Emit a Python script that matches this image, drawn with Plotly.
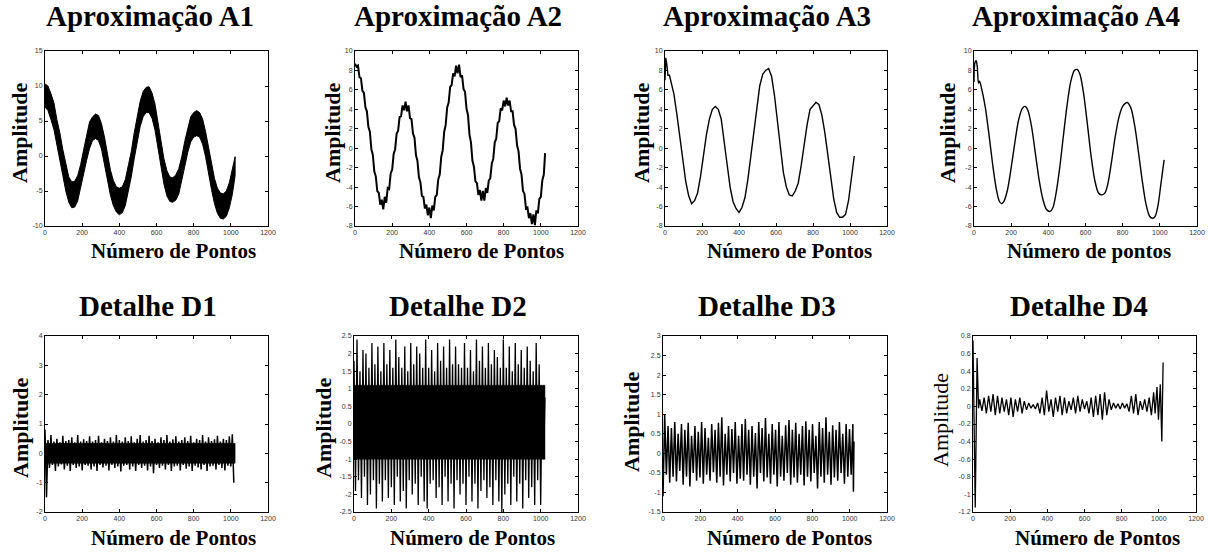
import plotly.graph_objects as go

# ---------------- data ----------------
X_TICKS = [0, 200, 400, 600, 800, 1000, 1200]
X_TICK_TEXT = ["0", "200", "400", "600", "800", "1000", "1200"]

Y_TICKS_A1 = [-10, -5, 0, 5, 10, 15]
Y_TEXT_A1 = ["-10", "-5", "0", "5", "10", "15"]
Y_TICKS_A = [-8, -6, -4, -2, 0, 2, 4, 6, 8, 10]
Y_TEXT_A = ["-8", "-6", "-4", "-2", "0", "2", "4", "6", "8", "10"]
Y_TICKS_D1 = [-2, -1, 0, 1, 2, 3, 4]
Y_TEXT_D1 = ["-2", "-1", "0", "1", "2", "3", "4"]
Y_TICKS_D2 = [-2.5, -2, -1.5, -1, -0.5, 0, 0.5, 1, 1.5, 2, 2.5]
Y_TEXT_D2 = ["-2.5", "-2", "-1.5", "-1", "-0.5", "0", "0.5", "1", "1.5", "2", "2.5"]
Y_TICKS_D3 = [-1.5, -1, -0.5, 0, 0.5, 1, 1.5, 2, 2.5, 3]
Y_TEXT_D3 = ["-1.5", "-1", "-0.5", "0", "0.5", "1", "1.5", "2", "2.5", "3"]
Y_TICKS_D4 = [-1.2, -1, -0.8, -0.6, -0.4, -0.2, 0, 0.2, 0.4, 0.6, 0.8]
Y_TEXT_D4 = ["-1.2", "-1", "-0.8", "-0.6", "-0.4", "-0.2", "0", "0.2", "0.4", "0.6", "0.8"]

TITLES = ["Aproximação A1", "Aproximação A2", "Aproximação A3", "Aproximação A4",
          "Detalhe D1", "Detalhe D2", "Detalhe D3", "Detalhe D4"]
XLABELS = ["Número de Pontos", "Número de Pontos", "Número de Pontos", "Número de pontos",
           "Número de Pontos", "Número de Pontos", "Número de Pontos", "Número de Pontos"]
YLABEL = "Amplitude"

# A1: noisy band (upper / lower envelope), samples every 16 points
A1_x = list(range(0, 1024, 16)) + [1023]
A1_upper = [10.3, 10.0, 8.9, 7.6, 5.2, 3.3, 0.9, -1.3, -3.0, -3.7,
            -3.6, -2.8, -1.2, 0.9, 3.0, 4.9, 5.6, 6.0, 5.8, 4.6,
            2.7, 0.3, -2.0, -3.5, -4.4, -4.6, -4.4, -3.4, -1.6, 0.6,
            3.3, 5.7, 7.8, 9.2, 9.8, 9.9, 9.0, 7.4, 4.9, 2.1,
            -0.4, -2.1, -3.0, -3.1, -2.7, -1.8, -0.1, 2.1, 4.1, 5.6,
            6.2, 6.5, 6.2, 5.3, 3.5, 1.2, -1.2, -3.2, -4.6, -5.3,
            -5.4, -5.0, -3.8, -1.9, -0.1]
A1_lower = [7.0, 6.5, 5.2, 3.8, 1.8, -0.4, -2.8, -5.0, -6.6, -7.4,
            -7.3, -6.4, -4.8, -2.7, -0.6, 1.1, 2.2, 2.5, 2.2, 1.0,
            -1.0, -3.4, -5.6, -7.1, -8.0, -8.4, -8.1, -7.1, -5.3, -3.0,
            -0.4, 2.1, 4.2, 5.6, 6.2, 6.2, 5.4, 3.7, 1.3, -1.5,
            -4.0, -5.7, -6.5, -6.6, -6.3, -5.4, -3.7, -1.5, 0.5, 2.0,
            2.7, 2.9, 2.7, 1.7, -0.1, -2.4, -4.8, -6.8, -8.2, -8.9,
            -9.0, -8.6, -7.4, -5.5, -2.8]

# A2: samples every 8 points
A2_x = list(range(0, 1024, 8)) + [1023]
A2_y = [8.7, 8.4, 8.5, 7.3, 7.2, 5.9, 5.7, 4.2, 3.8, 2.2,
        1.7, -0.1, -0.7, -2.4, -2.9, -4.4, -4.6, -5.8, -5.3, -6.3,
        -5.0, -5.6, -4.1, -4.2, -2.6, -2.2, -0.6, -0.1, 1.5, 1.8,
        3.2, 3.3, 4.4, 3.9, 4.8, 3.8, 4.4, 3.1, 3.0, 1.5,
        1.1, -0.7, -1.3, -3.0, -3.5, -4.9, -5.0, -6.2, -5.8, -6.9,
        -6.1, -7.2, -5.9, -6.4, -5.0, -4.8, -3.2, -2.7, -0.9, -0.2,
        1.7, 2.4, 4.2, 4.7, 6.3, 6.5, 7.7, 7.4, 8.5, 7.7,
        8.6, 7.3, 7.5, 6.1, 5.8, 4.1, 3.4, 1.4, 0.6, -1.3,
        -1.9, -3.4, -3.6, -4.8, -4.3, -5.4, -4.4, -5.4, -4.1, -4.6,
        -3.3, -3.1, -1.6, -1.1, 0.6, 1.0, 2.6, 2.8, 4.1, 3.9,
        4.9, 4.3, 5.2, 4.4, 4.9, 3.8, 3.8, 2.4, 2.0, 0.3,
        -0.3, -2.1, -2.7, -4.4, -4.7, -6.2, -6.1, -7.2, -6.7, -7.8,
        -6.8, -7.9, -6.4, -6.7, -5.2, -5.0, -3.3, -2.7,
        -0.5]

# A3
A3_x = [0, 4, 10, 16, 24, 32, 48, 64, 80, 96, 112, 128, 144, 160, 176, 192, 208, 224,
        240, 256, 272, 288, 304, 320, 336, 352, 368, 384, 400, 416, 432, 448, 464, 480,
        496, 512, 528, 544, 560, 576, 592, 608, 624, 640, 656, 672, 688, 704, 720, 736,
        752, 768, 784, 800, 816, 832, 848, 864, 880, 896, 912, 928, 944, 960, 976, 992,
        1008, 1023]
A3_y = [7.0, 9.3, 8.6, 7.5, 7.5, 6.9, 5.6, 3.5, 1.2, -1.2, -3.4, -4.9, -5.7, -5.4, -4.6,
        -2.9, -0.6, 1.4, 3.0, 4.0, 4.3, 4.0, 3.0, 0.9, -1.7, -4.0, -5.5, -6.2, -6.6, -6.1,
        -5.1, -3.2, -0.9, 1.6, 4.1, 6.4, 7.6, 8.0, 8.2, 7.4, 5.4, 3.0, 0.1, -2.5, -4.0,
        -4.8, -4.9, -4.4, -3.6, -1.8, 0.5, 2.4, 4.0, 4.4, 4.7, 4.5, 3.4, 1.6, -0.7, -3.2,
        -5.2, -6.6, -7.1, -7.1, -6.8, -5.4, -3.3, -0.8]

# A4
A4_x = [0, 5, 12, 18, 24, 30, 40, 60, 80, 100, 120, 135, 148, 160, 180, 200, 220, 240,
        260, 275, 290, 310, 330, 350, 370, 390, 410, 425, 440, 460, 480, 500, 520, 540,
        555, 570, 590, 610, 630, 650, 670, 690, 705, 720, 740, 760, 780, 800, 825, 845,
        865, 885, 905, 925, 945, 960, 975, 990, 1005, 1023]
A4_y = [6.8, 8.8, 9.0, 8.3, 6.7, 6.9, 6.2, 4.3, 1.5, -1.6, -4.2, -5.4, -5.7, -5.5, -4.3,
        -2.0, 0.6, 2.9, 4.1, 4.3, 3.9, 2.2, -0.5, -3.2, -5.2, -6.3, -6.5, -6.1, -4.8, -2.2,
        1.1, 4.3, 6.8, 8.0, 8.1, 7.6, 5.6, 2.5, -0.8, -3.3, -4.6, -4.8, -4.6, -3.7, -1.4,
        1.2, 3.2, 4.3, 4.7, 4.1, 2.3, -0.4, -3.3, -5.7, -7.0, -7.2, -7.0, -5.9, -3.8, -1.2]

# D1: local maxima (x = 0, 16, ...) and minima (x = 8, 24, ...)
D1_core = (-0.34, 0.34)
D1_peaks = [0.8, 0.45, 0.62, 0.4, 0.5, 0.38, 0.6, 0.42, 0.45, 0.55,
            0.38, 0.62, 0.4, 0.48, 0.42, 0.58, 0.4, 0.45, 0.6, 0.38,
            0.5, 0.42, 0.55, 0.4, 0.62, 0.45, 0.4, 0.55, 0.42, 0.58,
            0.38, 0.5, 0.62, 0.4, 0.45, 0.6, 0.42, 0.5, 0.38, 0.55,
            0.45, 0.62, 0.4, 0.48, 0.58, 0.4, 0.45, 0.55, 0.42, 0.6,
            0.38, 0.5, 0.45, 0.62, 0.4, 0.55, 0.42, 0.48, 0.6, 0.4,
            0.5, 0.45, 0.58, 0.65]
D1_troughs = [-1.5, -0.5, -0.4, -0.6, -0.45, -0.38, -0.55, -0.42, -0.6, -0.4,
              -0.5, -0.45, -0.58, -0.4, -0.42, -0.55, -0.45, -0.6, -0.4, -0.48,
              -0.42, -0.58, -0.4, -0.5, -0.45, -0.62, -0.42, -0.4, -0.55, -0.45,
              -0.6, -0.4, -0.5, -0.42, -0.58, -0.45, -0.68, -0.4, -0.5, -0.42,
              -0.55, -0.4, -0.6, -0.45, -0.42, -0.58, -0.4, -0.52, -0.45, -0.6,
              -0.42, -0.48, -0.55, -0.4, -0.6, -0.45, -0.42, -0.55, -0.4, -0.5,
              -0.58, -0.42, -0.45, -1.0]

# D2
D2_core = (-1.0, 1.1)
D2_peaks = [1.8, 2.4, 1.5, 2.1, 2.0, 1.6, 2.3, 1.7, 2.2, 1.5,
            2.3, 1.7, 2.1, 1.6, 2.4, 1.9, 1.6, 2.2, 1.5, 2.3,
            1.7, 2.2, 2.0, 1.6, 2.4, 1.6, 2.1, 1.5, 2.3, 1.8,
            2.2, 1.6, 2.4, 1.7, 2.2, 1.7, 1.6, 2.3, 1.6, 2.1,
            1.5, 2.4, 1.8, 2.2, 1.6, 2.3, 1.7, 2.1, 1.9, 1.6,
            2.4, 1.6, 2.2, 1.5, 2.3, 1.7, 2.1, 1.6, 2.2, 1.8,
            1.5, 2.3, 1.7, 1.0]
D2_troughs = [-1.9, -1.6, -2.1, -1.5, -2.3, -2.0, -1.6, -2.4, -1.7, -2.2,
              -1.6, -2.1, -1.8, -2.3, -1.5, -2.2, -1.9, -2.4, -1.6, -2.0,
              -1.7, -2.3, -1.5, -2.2, -2.4, -1.7, -1.6, -2.1, -1.8, -2.3,
              -1.5, -2.2, -1.7, -2.4, -1.6, -2.0, -1.7, -2.3, -1.5, -2.2,
              -1.7, -2.4, -1.9, -1.6, -2.1, -1.8, -2.3, -1.6, -2.2, -2.5,
              -2.0, -1.7, -2.3, -1.5, -2.2, -1.7, -2.4, -1.6, -2.1, -1.8,
              -2.3, -1.6, -2.3, -1.0]
D2_end = 0.75

# D3: minima at x = 0, 18, ...; maxima at x = 9, 27, ...
D3_troughs = [-1.1, -0.55, -0.75, -0.6, -0.72, -0.45, -0.8, -0.6, -0.85, -0.5,
              -0.7, -0.62, -0.78, -0.55, -0.7, -0.48, -0.75, -0.6, -0.82, -0.55,
              -0.72, -0.5, -0.78, -0.65, -0.7, -0.55, -0.8, -0.6, -0.9, -0.5,
              -0.72, -0.62, -0.78, -0.55, -0.85, -0.6, -0.7, -0.5, -0.8, -0.62,
              -0.75, -0.55, -0.82, -0.6, -0.72, -0.5, -0.9, -0.6, -0.75, -0.55,
              -0.8, -0.62, -0.7, -0.5, -0.78, -0.6, -0.55]
D3_peaks = [0.98, 0.7, 0.65, 0.8, 0.5, 0.75, 0.6, 0.78, 0.45, 0.7,
            0.55, 0.8, 0.65, 0.4, 0.75, 0.6, 0.78, 0.92, 0.5, 0.7,
            0.62, 0.8, 0.45, 0.75, 0.88, 0.6, 0.7, 0.52, 0.8, 0.65,
            0.9, 0.5, 0.75, 0.6, 0.8, 0.45, 0.72, 0.85, 0.6, 0.78,
            0.5, 0.7, 0.82, 0.6, 0.75, 0.45, 0.8, 0.65, 0.92, 0.55,
            0.72, 0.6, 0.8, 0.5, 0.75, 0.62, 0.75]
D3_tail_x = [1020, 1023]
D3_tail_y = [-0.98, 0.3]

# D4
D4_head_x = [0, 12, 22, 30]
D4_head_y = [0.75, -1.15, 0.55, -0.02]
D4_osc = [0.08, -0.05, 0.1, -0.08, 0.12, -0.06, 0.14, -0.1, 0.12, -0.08,
          0.1, -0.06, 0.08, -0.1, 0.1, -0.12, 0.08, -0.06, 0.1, -0.08,
          0.06, -0.04, 0.04, -0.02, 0.02, -0.03, 0.04, -0.08, 0.1, -0.1,
          0.18, -0.06, 0.08, -0.12, 0.1, -0.06, 0.12, -0.1, 0.1, -0.08,
          0.06, -0.04, 0.1, -0.08, 0.12, -0.06, 0.08, -0.03, 0.06, -0.08,
          0.1, -0.12, 0.12, -0.1, 0.14, -0.15, 0.16, -0.1, 0.08, -0.04,
          0.04, -0.02, 0.03, -0.03, 0.04, -0.02, 0.03, -0.06, 0.12, -0.08,
          0.14, -0.1, 0.06, -0.04, 0.08, -0.06, 0.1, -0.1, 0.16]
D4_tail_x = [980, 990, 998, 1008, 1016, 1023]
D4_tail_y = [-0.08, 0.22, -0.15, 0.25, -0.4, 0.5]

# ---------------- layout helpers ----------------
W, H = 1208, 553
SERIF = "Liberation Serif, Times New Roman, serif"
SANS = "Liberation Sans, Arial, sans-serif"


def interleave(first, second, x0, step):
    xs, ys = [], []
    for i, (a, b) in enumerate(zip(first, second)):
        xs += [x0 + 2 * i * step, x0 + (2 * i + 1) * step]
        ys += [a, b]
    return xs, ys


def core_band(core, x0, x1, xa, ya):
    lo, hi = core
    return go.Scatter(x=[x0, x1, x1, x0, x0], y=[lo, lo, hi, hi, lo], fill="toself",
                      fillcolor="black", mode="lines", line=dict(color="black", width=0.5),
                      xaxis=xa, yaxis=ya, hoverinfo="skip")


fig = go.Figure()

# plot boxes in pixels (left, top, right, bottom)
boxes = [(45, 51, 268, 226), (355, 51, 578, 226), (665, 51, 887, 226), (974, 51, 1197, 226),
         (45, 336, 268, 512), (354, 336, 578, 512), (663, 336, 887, 512), (973, 336, 1196, 512)]
yconf = [((-10, 15), Y_TICKS_A1, Y_TEXT_A1), ((-8, 10), Y_TICKS_A, Y_TEXT_A),
         ((-8, 10), Y_TICKS_A, Y_TEXT_A), ((-8, 10), Y_TICKS_A, Y_TEXT_A),
         ((-2, 4), Y_TICKS_D1, Y_TEXT_D1), ((-2.5, 2.5), Y_TICKS_D2, Y_TEXT_D2),
         ((-1.5, 3), Y_TICKS_D3, Y_TEXT_D3), ((-1.2, 0.8), Y_TICKS_D4, Y_TEXT_D4)]
title_pos = [(150, 16), (458, 16), (767, 16), (1076, 16),
             (148, 306), (458, 306), (767, 306), (1079, 306)]
xlabel_pos = [(173, 251), (481, 251), (789, 251), (1089, 251),
              (173, 538), (473, 538), (789, 538), (1097, 538)]
ylabel_pos = [(20, 133), (333, 133), (642, 133), (948, 133),
              (20, 428), (323, 428), (631, 422), (940, 420)]
ylabel_bold = [True, True, True, True, True, True, True, False]

for k in range(8):
    ax = "" if k == 0 else str(k + 1)
    l, t, r, b = boxes[k]
    yr, yt, ytt = yconf[k]
    common = dict(showline=True, linecolor="black", linewidth=1, mirror="ticks",
                  ticks="inside", ticklen=3, tickcolor="black", tickwidth=1,
                  showgrid=False, zeroline=False, automargin=False,
                  tickfont=dict(family=SANS, size=7, color="#333333"))
    fig.update_layout(**{
        "xaxis" + ax: dict(domain=[l / W, r / W], range=[0, 1200],
                           tickvals=X_TICKS, ticktext=X_TICK_TEXT,
                           anchor="y" + ax, **common),
        "yaxis" + ax: dict(domain=[1 - b / H, 1 - t / H], range=list(yr),
                           tickvals=yt, ticktext=ytt,
                           anchor="x" + ax, **common),
    })

# A1 band
fig.add_trace(go.Scatter(x=A1_x + A1_x[::-1], y=A1_upper + A1_lower[::-1],
                         fill="toself", fillcolor="black", mode="lines",
                         line=dict(color="black", width=1), xaxis="x", yaxis="y"))
# A2
fig.add_trace(go.Scatter(x=A2_x, y=A2_y, mode="lines",
                         line=dict(color="black", width=2), xaxis="x2", yaxis="y2"))
# A3
fig.add_trace(go.Scatter(x=A3_x, y=A3_y, mode="lines",
                         line=dict(color="black", width=1.4), xaxis="x3", yaxis="y3"))
# A4
fig.add_trace(go.Scatter(x=A4_x, y=A4_y, mode="lines",
                         line=dict(color="black", width=1.4, shape="spline", smoothing=0.8),
                         xaxis="x4", yaxis="y4"))
# D1
fig.add_trace(core_band(D1_core, 0, 1023, "x5", "y5"))
d1x, d1y = interleave(D1_peaks, D1_troughs, 0, 8)
fig.add_trace(go.Scatter(x=d1x, y=d1y, mode="lines",
                         line=dict(color="black", width=1.5), xaxis="x5", yaxis="y5"))
# D2
fig.add_trace(core_band(D2_core, 0, 1023, "x6", "y6"))
d2x, d2y = interleave(D2_peaks, D2_troughs, 0, 8)
fig.add_trace(go.Scatter(x=d2x + [1023], y=d2y + [D2_end], mode="lines",
                         line=dict(color="black", width=1.3), xaxis="x6", yaxis="y6"))
# D3
d3x, d3y = interleave(D3_troughs, D3_peaks, 0, 9)
fig.add_trace(go.Scatter(x=d3x + D3_tail_x, y=d3y + D3_tail_y, mode="lines",
                         line=dict(color="black", width=1.5), xaxis="x7", yaxis="y7"))
# D4
d4x = D4_head_x + [36 + 12 * i for i in range(len(D4_osc))] + D4_tail_x
d4y = D4_head_y + D4_osc + D4_tail_y
fig.add_trace(go.Scatter(x=d4x, y=d4y, mode="lines",
                         line=dict(color="black", width=1.3), xaxis="x8", yaxis="y8"))

ann = []
for k in range(8):
    tx, ty = title_pos[k]
    ann.append(dict(text="<b>" + TITLES[k] + "</b>", x=tx / W, y=1 - ty / H,
                    xref="paper", yref="paper", xanchor="center", yanchor="middle",
                    showarrow=False, font=dict(family=SERIF, size=29, color="black")))
    lx, ly = xlabel_pos[k]
    ann.append(dict(text="<b>" + XLABELS[k] + "</b>", x=lx / W, y=1 - ly / H,
                    xref="paper", yref="paper", xanchor="center", yanchor="middle",
                    showarrow=False, font=dict(family=SERIF, size=21, color="black")))
    yx, yy = ylabel_pos[k]
    txt = "<b>" + YLABEL + "</b>" if ylabel_bold[k] else YLABEL
    ann.append(dict(text=txt, x=yx / W, y=1 - yy / H, textangle=-90,
                    xref="paper", yref="paper", xanchor="center", yanchor="middle",
                    showarrow=False, font=dict(family=SERIF, size=22, color="black")))

fig.update_layout(width=W, height=H, margin=dict(l=0, r=0, t=0, b=0),
                  paper_bgcolor="white", plot_bgcolor="white",
                  showlegend=False, annotations=ann)

fig.write_html("out.html", config={"displayModeBar": False},
               post_script="document.body.style.margin='0';document.body.style.overflow='hidden';")
